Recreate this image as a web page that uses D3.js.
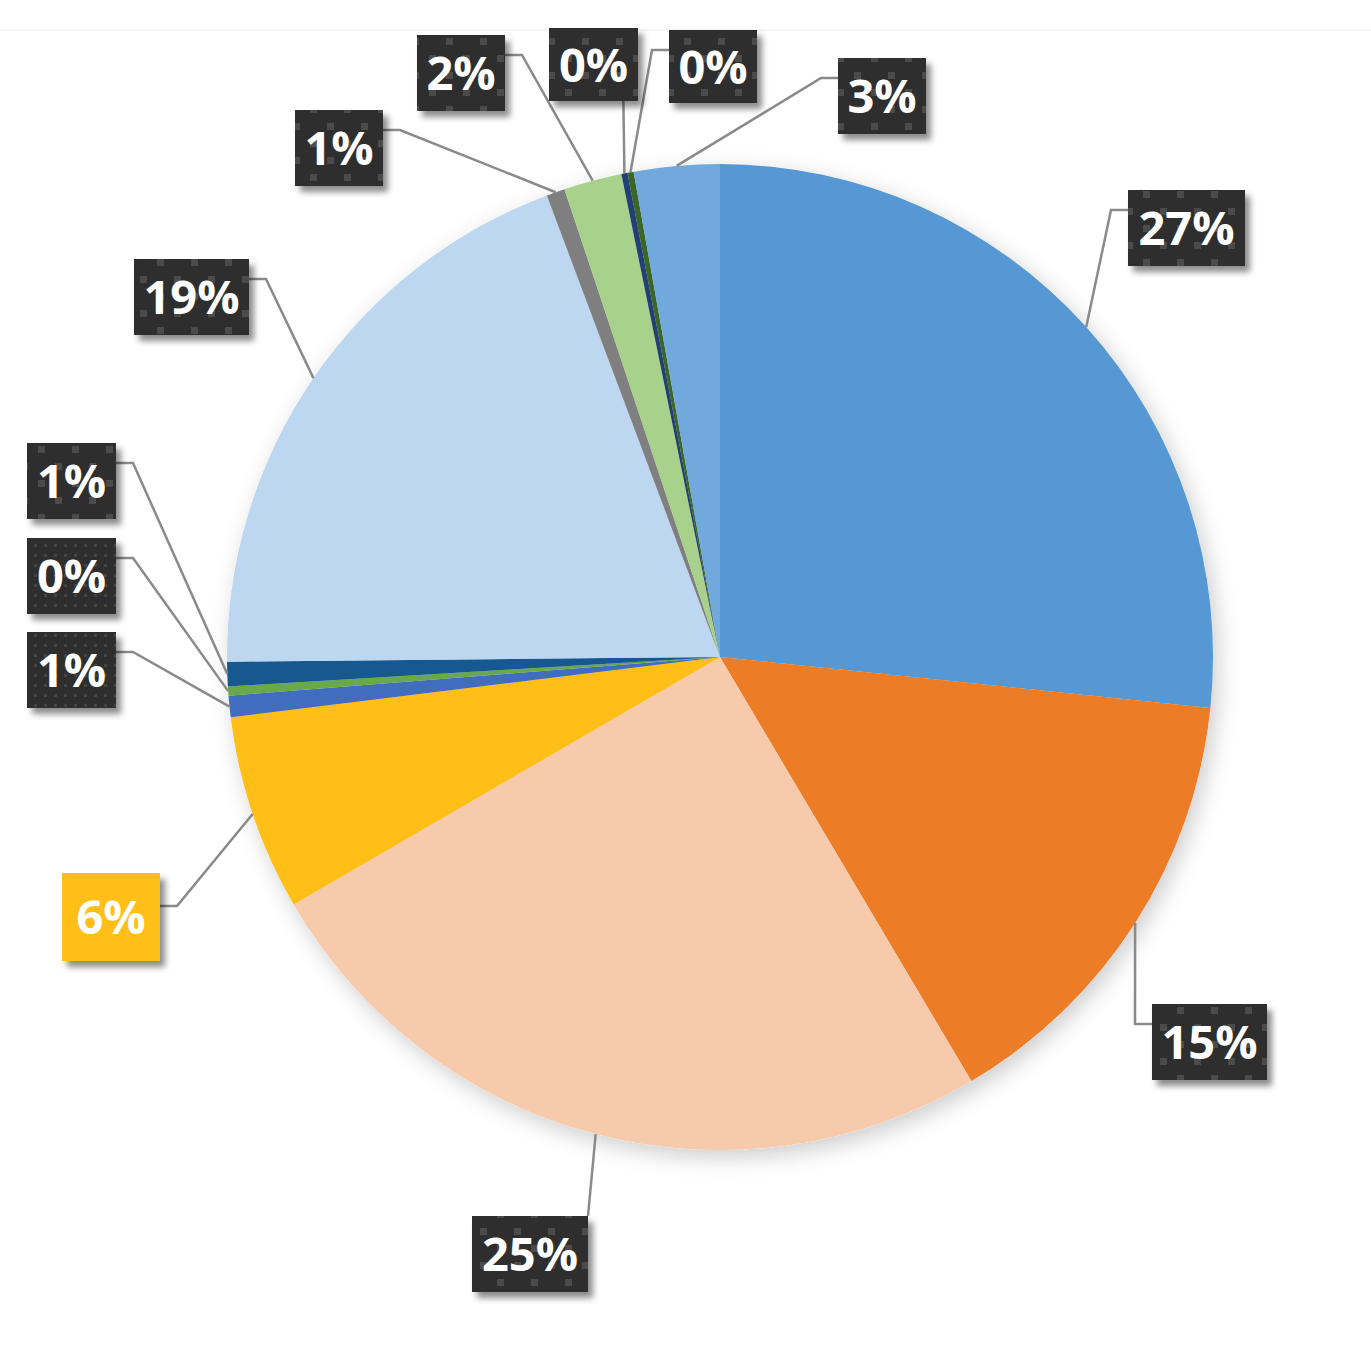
<!DOCTYPE html>
<html><head><meta charset="utf-8">
<script src="https://cdn.jsdelivr.net/npm/d3@7"></script>
<style>body{margin:0;background:#fff}svg{display:block}</style>
</head><body>
<svg id="chart" width="1371" height="1370"></svg>
<script>
// ---- data ----
const categories = ["Segment 1","Segment 2","Segment 3","Segment 4","Segment 5","Segment 6","Segment 7",
                    "Segment 8","Segment 9","Segment 10","Segment 11","Segment 12","Segment 13"];
const values = [26.6, 14.8, 25.1, 6.4, 0.7, 0.3, 0.8, 19.4, 0.6, 1.9, 0.2, 0.2, 2.8];
const labels = ["27%","15%","25%","6%","1%","0%","1%","19%","1%","2%","0%","0%","3%"];
const colors = ["#5498D4","#ED7B26","#F8CAAC","#FFBF12","#3F6DBE","#69A84B","#13588F",
                "#BCD7EF","#7F7F7F","#A8D28C","#223F75","#3B6629","#72A9DC"];

// ---- layout (label boxes) ----
const labelLayout = [
  {x:1128,y:190,w:117,h:76,side:"left"},
  {x:1152,y:1004,w:115,h:76,side:"left"},
  {x:472,y:1216,w:116,h:76,side:"corner"},
  {x:62,y:873,w:98,h:88,side:"right",ay:33,fill:"#FFBF12"},
  {x:27,y:632,w:89,h:76,side:"right",fine:true},
  {x:27,y:538,w:89,h:76,side:"right",fine:true},
  {x:27,y:443,w:89,h:76,side:"right"},
  {x:134,y:259,w:115,h:76,side:"right"},
  {x:295,y:110,w:88,h:76,side:"right"},
  {x:417,y:35,w:88,h:76,side:"right"},
  {x:549,y:28,w:89,h:73,side:"bottom"},
  {x:669,y:30,w:88,h:73,side:"left"},
  {x:838,y:58,w:88,h:76,side:"left"}
];

const svg = d3.select("#chart");
const cx = 720, cy = 657, R = 493;

const defs = svg.append("defs");
const pieShadow = defs.append("filter").attr("id","pieShadow").attr("x","-20%").attr("y","-20%").attr("width","140%").attr("height","140%");
pieShadow.append("feDropShadow").attr("dx",5).attr("dy",7).attr("stdDeviation",11)
  .attr("flood-color","#000").attr("flood-opacity",0.2);
const boxShadow = defs.append("filter").attr("id","boxShadow").attr("x","-20%").attr("y","-20%").attr("width","150%").attr("height","150%");
boxShadow.append("feDropShadow").attr("dx",5).attr("dy",6).attr("stdDeviation",3)
  .attr("flood-color","#000").attr("flood-opacity",0.45);

const pat = defs.append("pattern").attr("id","chk").attr("patternUnits","userSpaceOnUse")
  .attr("width",34).attr("height",34);
pat.append("rect").attr("width",34).attr("height",34).attr("fill","#2E2E2E");
pat.append("rect").attr("x",4).attr("y",4).attr("width",7).attr("height",7).attr("fill","#4B4B4B");
pat.append("rect").attr("x",21).attr("y",21).attr("width",7).attr("height",7).attr("fill","#4B4B4B");

const fine = defs.append("pattern").attr("id","fine").attr("patternUnits","userSpaceOnUse")
  .attr("width",10).attr("height",10);
fine.append("rect").attr("width",10).attr("height",10).attr("fill","#2E2E2E");
fine.append("rect").attr("x",4).attr("y",4).attr("width",3).attr("height",3).attr("fill","#444");

// faint chart-area line
svg.append("line").attr("x1",0).attr("x2",1371).attr("y1",30).attr("y2",30)
  .attr("stroke","#EDEDED").attr("stroke-width",1);

const pie = d3.pie().sort(null).value(d => d).startAngle(0).endAngle(2*Math.PI);
const arcs = pie(values);
const arc = d3.arc().innerRadius(0).outerRadius(R);

const g = svg.append("g").attr("transform",`translate(${cx},${cy})`);
g.append("g").attr("filter","url(#pieShadow)")
  .selectAll("path").data(arcs).join("path")
  .attr("d",arc).attr("fill",(d,i)=>colors[i]);

// leaders
const lg = svg.append("g");
arcs.forEach((a,i) => {
  const m = (a.startAngle + a.endAngle)/2;
  const px = cx + R*Math.sin(m), py = cy - R*Math.cos(m);
  const L = labelLayout[i];
  const ay = L.y + (L.ay !== undefined ? L.ay : 20);
  let pts;
  if (L.side === "left") pts = [[px,py],[L.x-17,ay],[L.x,ay]];
  else if (L.side === "right") pts = [[px,py],[L.x+L.w+17,ay],[L.x+L.w,ay]];
  else if (L.side === "corner") pts = [[px,py],[L.x+L.w,L.y]];
  else pts = [[px,py],[px-1,L.y+L.h]];
  lg.append("path").attr("d",d3.line()(pts)).attr("fill","none")
    .attr("stroke","#8A8A8A").attr("stroke-width",2.5);
});

// label boxes
const bg = svg.append("g");
labels.forEach((t,i) => {
  const L = labelLayout[i];
  bg.append("rect").attr("x",L.x).attr("y",L.y).attr("width",L.w).attr("height",L.h)
    .attr("fill", L.fill ? L.fill : (L.fine ? "url(#fine)" : "url(#chk)"))
    .attr("filter","url(#boxShadow)");
  bg.append("text").attr("x",L.x+L.w/2).attr("y",L.y+L.h/2+17)
    .attr("text-anchor","middle").attr("fill","#fff")
    .attr("font-family","'Open Sans', sans-serif").attr("font-weight","bold")
    .attr("font-size",47).text(t);
});
</script>
</body></html>
